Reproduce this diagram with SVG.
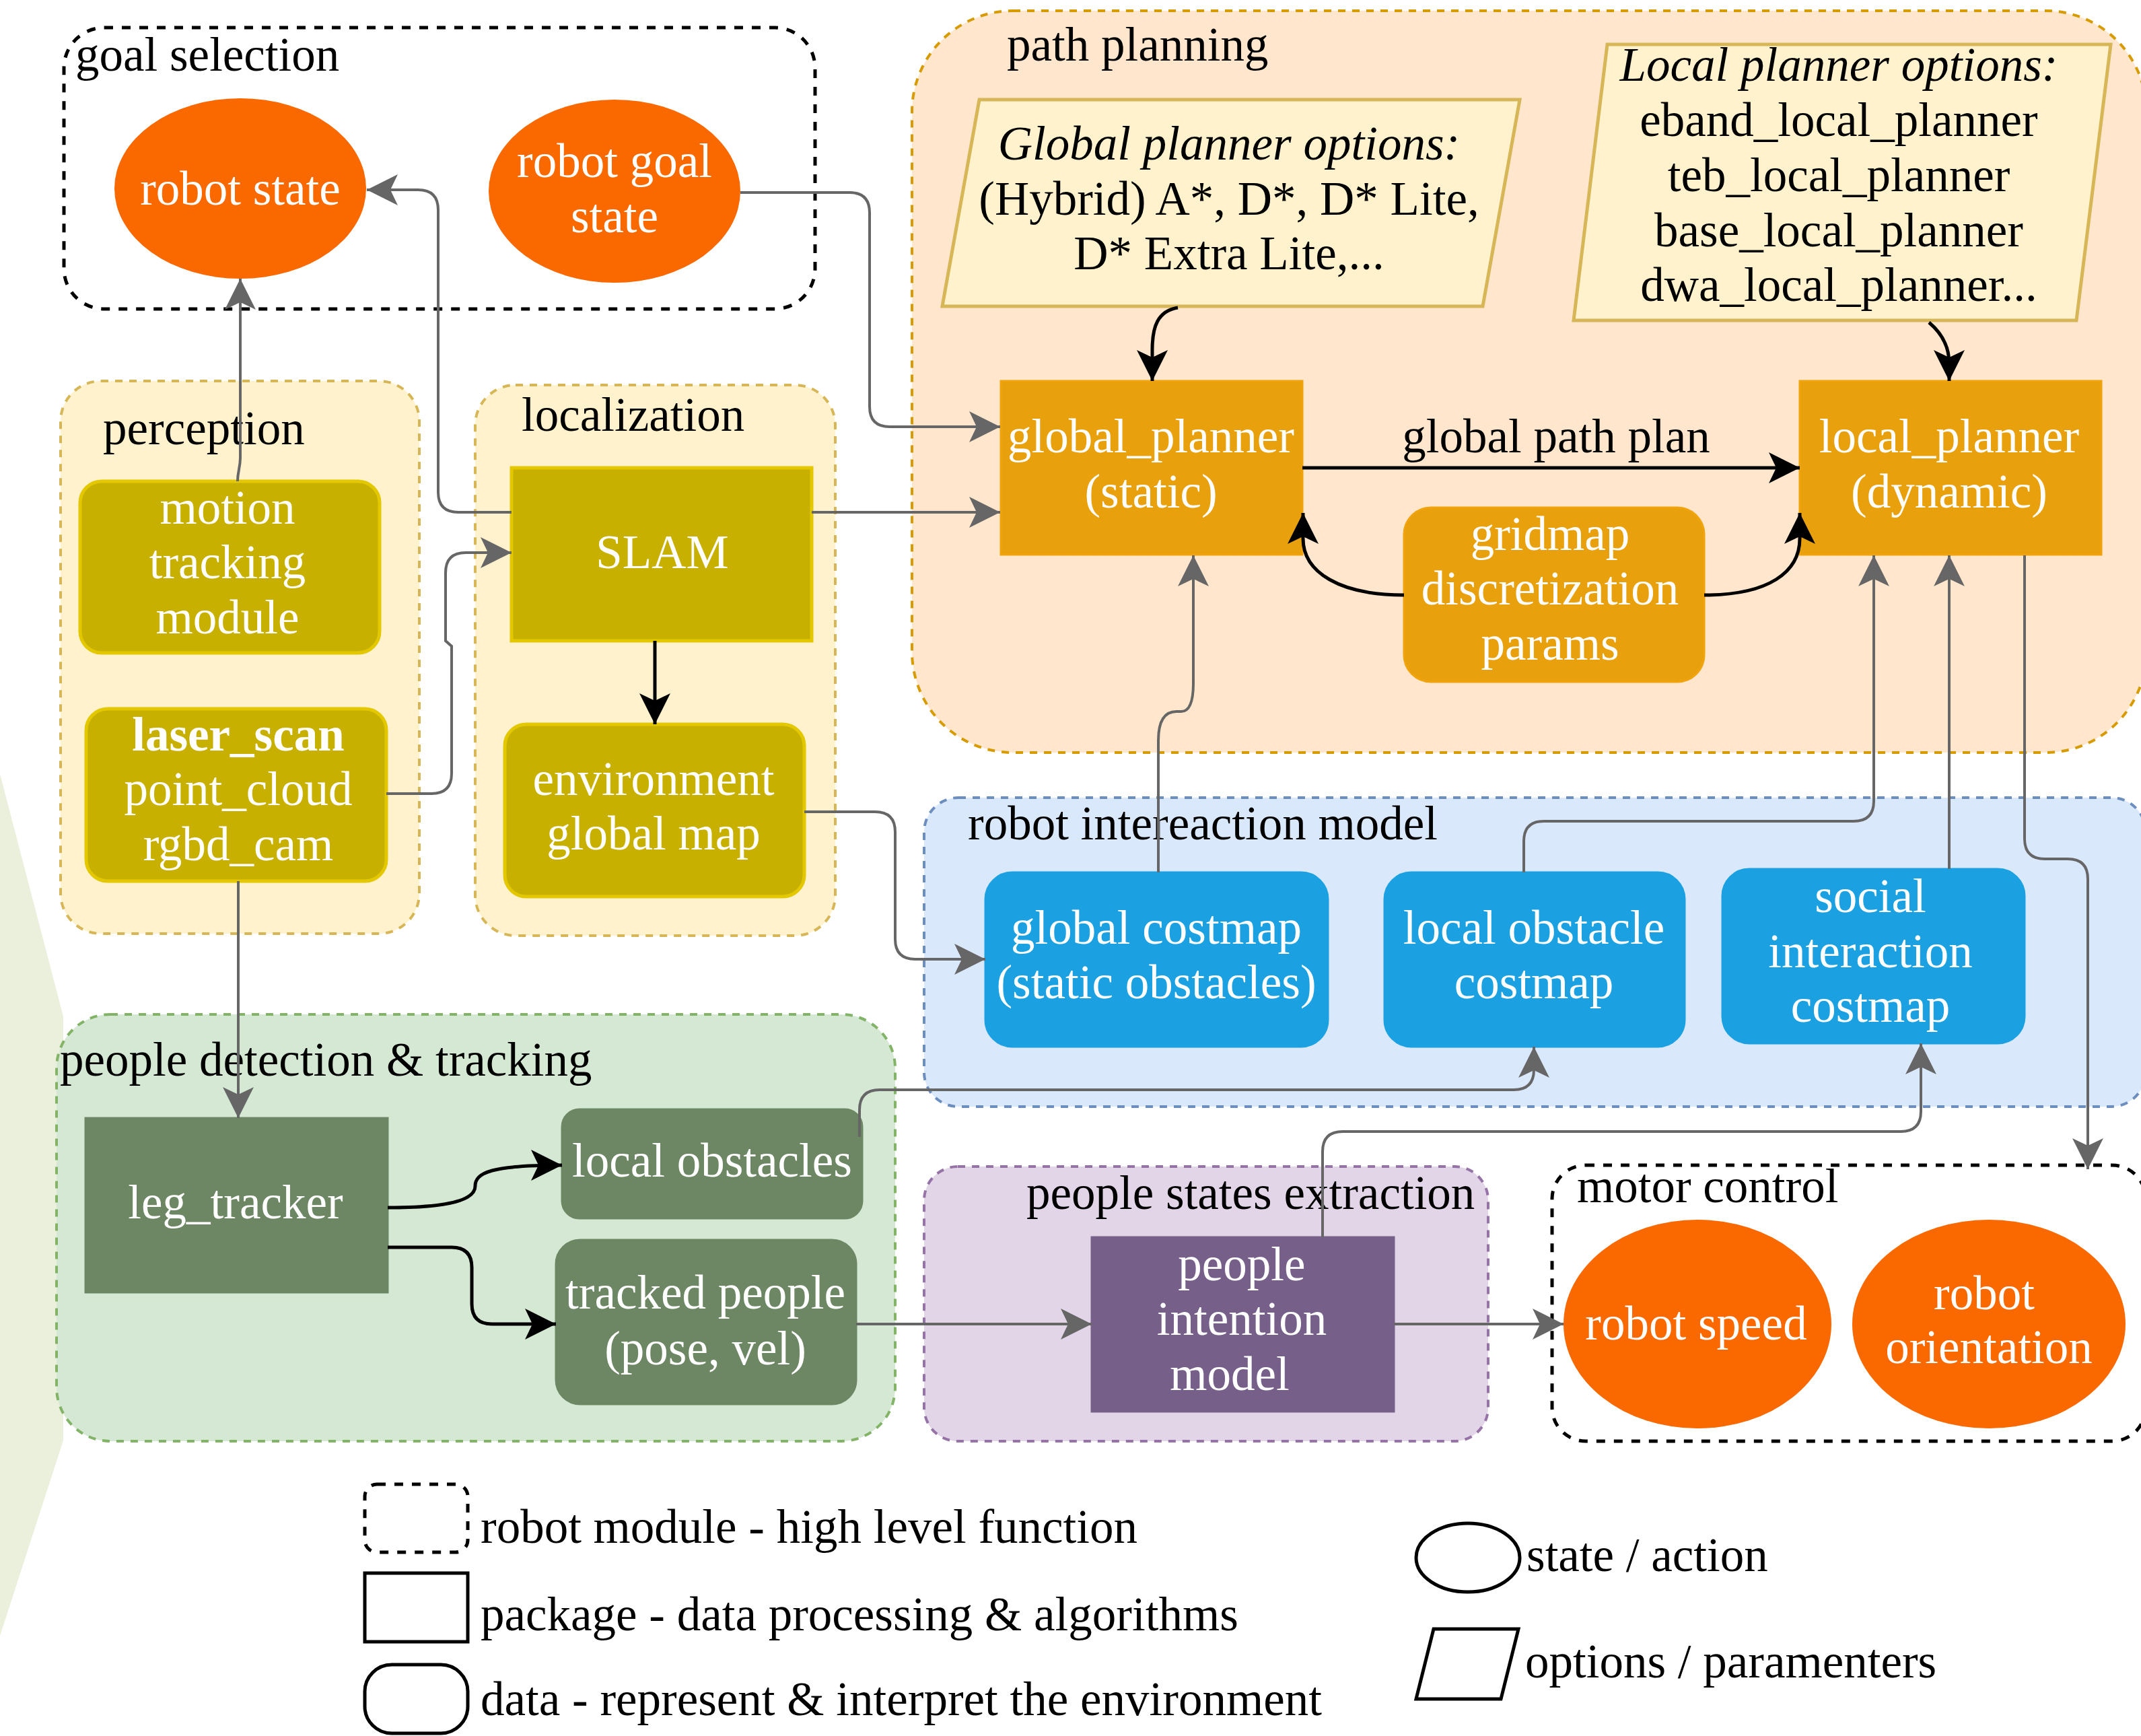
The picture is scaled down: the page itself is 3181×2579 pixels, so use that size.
<svg xmlns="http://www.w3.org/2000/svg" width="3181" height="2579" viewBox="0 0 3181 2579">
<defs>
<style>
text{font-family:"Liberation Serif","Times New Roman",serif;font-size:71px}
.w{fill:#ffffff;text-anchor:middle}
.k{fill:#000000}
.c{fill:#000000;text-anchor:middle}
.grp{stroke-width:4;stroke-dasharray:11 10}
.blk{stroke-width:5;stroke-dasharray:13 13}
.g{fill:none;stroke:#666666;stroke-width:4;marker-end:url(#ag)}
.b{fill:none;stroke:#000000;stroke-width:5;marker-end:url(#ab)}
.orange{fill:#fa6800}
.amber{fill:#e8a00c;stroke:#f0a30a;stroke-width:3}
.olive{fill:#c8b000;stroke:#e3c800;stroke-width:5}
.cyan{fill:#1ba1e2;stroke:#1ba1e2;stroke-width:3}
.green{fill:#6d8764;stroke:#6d8764;stroke-width:3}
.purple{fill:#76608a;stroke:#76608a;stroke-width:3}
.opt{fill:#fff2cc;stroke:#d6b656;stroke-width:5}
.leg{fill:none;stroke:#000000;stroke-width:5}
</style>
<marker id="ag" viewBox="0 0 46 46" markerWidth="46" markerHeight="46" refX="46" refY="23" orient="auto" markerUnits="userSpaceOnUse"><path d="M0,0 L46,23 L0,46 L11,23 z" fill="#666666"/></marker>
<marker id="ab" viewBox="0 0 46 46" markerWidth="46" markerHeight="46" refX="46" refY="23" orient="auto" markerUnits="userSpaceOnUse"><path d="M0,0 L46,23 L0,46 L11,23 z" fill="#000000"/></marker>
</defs>
<rect width="3181" height="2579" fill="#ffffff"/>
<polygon id="bg-shape" points="0,1150 94,1510 94,2140 0,2430" fill="#ebf0dc"/>

<!-- containers -->
<g id="goal-selection">
<rect x="95" y="41" width="1116" height="418" rx="60" fill="none" stroke="#000000" class="blk"/>
<text x="112" y="105" class="k">goal selection</text>
</g>
<g id="path-planning">
<rect x="1355" y="16" width="1834" height="1102" rx="150" fill="#ffe6cc" stroke="#d79b00" class="grp"/>
<text x="1496" y="90" class="k">path planning</text>
</g>
<g id="perception">
<rect x="90" y="566" width="533" height="821" rx="60" fill="#fff2cc" stroke="#d6b656" class="grp"/>
<text x="153" y="660" class="k">perception</text>
</g>
<g id="localization">
<rect x="706" y="572" width="535" height="818" rx="60" fill="#fff2cc" stroke="#d6b656" class="grp"/>
<text x="775" y="640" class="k">localization</text>
</g>
<g id="robot-interaction-model">
<rect x="1373" y="1185" width="1815" height="459" rx="51" fill="#dae8fc" stroke="#6c8ebf" class="grp"/>
<text x="1438" y="1247" class="k">robot intereaction model</text>
</g>
<g id="people-detection-tracking">
<rect x="84" y="1507" width="1246" height="634" rx="80" fill="#d5e8d4" stroke="#82b366" class="grp"/>
<text x="89" y="1598" class="k">people detection &amp; tracking</text>
</g>
<g id="people-states-extraction">
<rect x="1373" y="1733" width="838" height="408" rx="50" fill="#e1d5e7" stroke="#9673a6" class="grp"/>
<text x="1525" y="1796" class="k">people states extraction</text>
</g>
<g id="motor-control">
<rect x="2306" y="1731" width="882" height="410" rx="50" fill="none" stroke="#000000" class="blk"/>
<text x="2343" y="1786" class="k">motor control</text>
</g>

<!-- nodes -->
<g id="robot-state">
<ellipse cx="357" cy="280" rx="187" ry="134" class="orange"/>
<text x="357" y="304" class="w">robot state</text>
</g>
<g id="robot-goal-state">
<ellipse cx="913" cy="284" rx="187" ry="136" class="orange"/>
<text class="w"><tspan x="913" y="263">robot goal</tspan><tspan x="913" y="345">state</tspan></text>
</g>
<g id="global-planner-options">
<polygon points="1455,148 2258,148 2203,455 1400,455" class="opt"/>
<text class="c"><tspan x="1826" y="237" font-style="italic">Global planner options:</tspan><tspan x="1826" y="319">(Hybrid) A*, D*, D* Lite,</tspan><tspan x="1826" y="400">D* Extra Lite,...</tspan></text>
</g>
<g id="local-planner-options">
<polygon points="2388,66 3136,66 3085,476 2338,476" class="opt"/>
<text class="c"><tspan x="2732" y="120" font-style="italic">Local planner options:</tspan><tspan x="2732" y="202">eband_local_planner</tspan><tspan x="2732" y="284">teb_local_planner</tspan><tspan x="2732" y="366">base_local_planner</tspan><tspan x="2732" y="447">dwa_local_planner...</tspan></text>
</g>
<g id="global-planner">
<rect x="1487" y="566" width="448" height="258" class="amber"/>
<text class="w"><tspan x="1710" y="672">global_planner</tspan><tspan x="1710" y="754">(static)</tspan></text>
</g>
<g id="local-planner">
<rect x="2674" y="566" width="448" height="258" class="amber"/>
<text class="w"><tspan x="2896" y="672">local_planner</tspan><tspan x="2896" y="754">(dynamic)</tspan></text>
</g>
<g id="gridmap-params">
<rect x="2086" y="754" width="446" height="259" rx="40" class="amber"/>
<text class="w"><tspan x="2303" y="817">gridmap</tspan><tspan x="2303" y="898">discretization</tspan><tspan x="2303" y="980">params</tspan></text>
</g>
<g id="motion-tracking-module">
<rect x="119" y="715" width="445" height="255" rx="32" class="olive"/>
<text class="w"><tspan x="338" y="778">motion</tspan><tspan x="338" y="859">tracking</tspan><tspan x="338" y="941">module</tspan></text>
</g>
<g id="sensors">
<rect x="128" y="1053" width="446" height="256" rx="32" class="olive"/>
<text class="w"><tspan x="354" y="1115" font-weight="bold">laser_scan</tspan><tspan x="354" y="1196">point_cloud</tspan><tspan x="354" y="1278">rgbd_cam</tspan></text>
</g>
<g id="slam">
<rect x="760" y="695" width="446" height="257" class="olive"/>
<text x="984" y="844" class="w">SLAM</text>
</g>
<g id="environment-global-map">
<rect x="750" y="1076" width="445" height="256" rx="32" class="olive"/>
<text class="w"><tspan x="971" y="1181">environment</tspan><tspan x="971" y="1262">global map</tspan></text>
</g>
<g id="global-costmap">
<rect x="1464" y="1296" width="509" height="259" rx="40" class="cyan"/>
<text class="w"><tspan x="1718" y="1402">global costmap</tspan><tspan x="1718" y="1483">(static obstacles)</tspan></text>
</g>
<g id="local-obstacle-costmap">
<rect x="2057" y="1296" width="446" height="259" rx="40" class="cyan"/>
<text class="w"><tspan x="2279" y="1402">local obstacle</tspan><tspan x="2279" y="1483">costmap</tspan></text>
</g>
<g id="social-interaction-costmap">
<rect x="2559" y="1291" width="449" height="259" rx="40" class="cyan"/>
<text class="w"><tspan x="2779" y="1355">social</tspan><tspan x="2779" y="1437">interaction</tspan><tspan x="2779" y="1518">costmap</tspan></text>
</g>
<g id="leg-tracker">
<rect x="127" y="1661" width="449" height="259" class="green"/>
<text x="350" y="1810" class="w">leg_tracker</text>
</g>
<g id="local-obstacles">
<rect x="835" y="1648" width="446" height="162" rx="26" class="green"/>
<text x="1058" y="1748" class="w">local obstacles</text>
</g>
<g id="tracked-people">
<rect x="826" y="1842" width="446" height="244" rx="36" class="green"/>
<text class="w"><tspan x="1048" y="1944">tracked people</tspan><tspan x="1048" y="2027">(pose, vel)</tspan></text>
</g>
<g id="people-intention-model">
<rect x="1622" y="1838" width="449" height="259" class="purple"/>
<text class="w"><tspan x="1845" y="1902">people</tspan><tspan x="1845" y="1983">intention</tspan><tspan x="1827" y="2065">model</tspan></text>
</g>
<g id="robot-speed">
<ellipse cx="2522" cy="1967" rx="199" ry="155" class="orange"/>
<text x="2520" y="1990" class="w">robot speed</text>
</g>
<g id="robot-orientation">
<ellipse cx="2955" cy="1967" rx="203" ry="155" class="orange"/>
<text class="w"><tspan x="2948" y="1945">robot</tspan><tspan x="2955" y="2025">orientation</tspan></text>
</g>

<!-- connectors -->
<g id="connectors">
<path class="g" d="M353,715 C353,700 357,695 357,680 V414"/>
<path class="g" d="M760,761 H681 Q651,761 651,731 V312 Q651,282 621,282 H545"/>
<path class="g" d="M1100,286 H1262 Q1292,286 1292,316 V604 Q1292,634 1322,634 H1486"/>
<path class="g" d="M1206,761 H1486"/>
<path class="g" d="M574,1179 H641 Q671,1179 671,1149 V960 L662,952 V851 Q662,821 692,821 H760"/>
<path class="g" d="M354,1309 V1661"/>
<path class="g" d="M1195,1206 H1300 Q1330,1206 1330,1236 V1395 Q1330,1425 1360,1425 H1464"/>
<path class="g" d="M1721,1296 V1100 Q1721,1057 1748,1057 H1755 Q1773,1057 1773,1015 V825"/>
<path class="g" d="M2264,1296 V1250 Q2264,1220 2294,1220 H2754 Q2784,1220 2784,1190 V825"/>
<path class="g" d="M2896,1291 V825"/>
<path class="g" d="M3008,825 V1246 Q3008,1276 3038,1276 H3072 Q3102,1276 3102,1306 V1737"/>
<path class="g" d="M1277,1689 V1649 Q1277,1619 1307,1619 H2249 Q2279,1619 2279,1589 V1555"/>
<path class="g" d="M1272,1967 H1622"/>
<path class="g" d="M1965,1838 V1711 Q1965,1681 1995,1681 H2824 Q2854,1681 2854,1651 V1550"/>
<path class="g" d="M2071,1967 H2323"/>
<path class="b" d="M1935,695 H2674"/>
<path class="b" d="M2086,884 C1990,884 1936,850 1936,800 V762"/>
<path class="b" d="M2532,884 C2628,884 2674,850 2674,800 V762"/>
<path class="b" d="M1750,457 C1720,462 1712,485 1712,520 V566"/>
<path class="b" d="M2866,479 C2885,495 2896,515 2896,540 V566"/>
<path class="b" d="M973,952 V1076"/>
<path class="b" d="M576,1794 C670,1794 706,1782 706,1762 C706,1742 730,1731 835,1731"/>
<path class="b" d="M576,1853 H671 Q701,1853 701,1883 V1937 Q701,1967 731,1967 H826"/>
<text x="2312" y="672" class="c">global path plan</text>
</g>

<!-- legend -->
<g id="legend">
<rect x="542" y="2205" width="153" height="101" rx="18" class="leg" stroke-dasharray="13 13"/>
<text x="714" y="2292" class="k">robot module - high level function</text>
<rect x="542" y="2337" width="153" height="102" class="leg"/>
<text x="714" y="2422" class="k">package - data processing &amp; algorithms</text>
<rect x="542" y="2473" width="153" height="102" rx="40" class="leg"/>
<text x="714" y="2548" class="k">data - represent &amp; interpret the environment</text>
<ellipse cx="2181" cy="2314" rx="77" ry="51" class="leg"/>
<text x="2268" y="2334" class="k">state / action</text>
<polygon points="2130,2420 2256,2420 2230,2524 2104,2524" class="leg"/>
<text x="2266" y="2492" class="k">options / paramenters</text>
</g>
</svg>
